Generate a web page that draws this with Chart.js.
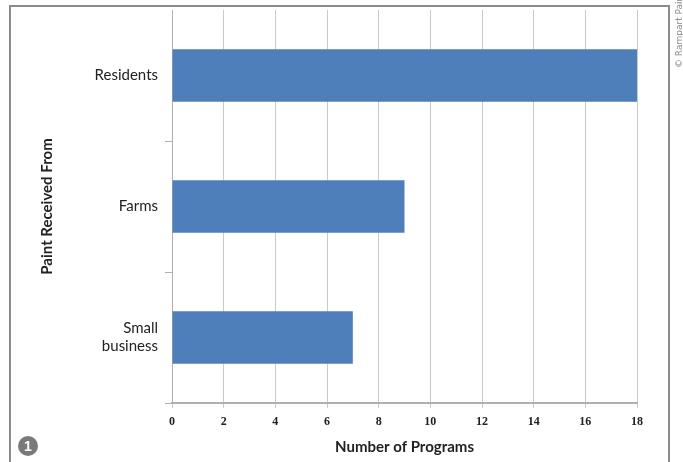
<!DOCTYPE html>
<html>
<head>
<meta charset="utf-8">
<script src="https://cdn.jsdelivr.net/npm/chart.js@4/dist/chart.umd.min.js"></script>
<style>
  html, body { margin: 0; padding: 0; background: #ffffff; }
  #wrap { width: 683px; height: 462px; position: relative; }
</style>
</head>
<body>
<div id="wrap"><canvas id="c" width="683" height="462"></canvas></div>
<script>
// Where the paint came from, and how many programs reported each source
const sources = ['Residents', 'Farms', ['Small', 'business']];
const programCounts = [18, 9, 7];
const xTicks = [0, 2, 4, 6, 8, 10, 12, 14, 16, 18];

const frameAndMarks = {
  id: 'frameAndMarks',
  beforeDraw(chart) {
    const ctx = chart.ctx;
    ctx.save();
    ctx.fillStyle = '#ffffff';
    ctx.fillRect(0, 0, chart.width, chart.height);
    ctx.strokeStyle = '#8a8a8a';
    ctx.lineWidth = 2;
    ctx.strokeRect(10, 6, 659, 470);
    ctx.restore();
  },
  afterDraw(chart) {
    const ctx = chart.ctx;
    ctx.save();
    // numbered badge
    ctx.fillStyle = '#7a7a7a';
    ctx.beginPath();
    ctx.arc(28, 446, 10, 0, Math.PI * 2);
    ctx.fill();
    ctx.fillStyle = '#ffffff';
    ctx.font = 'bold 14px "Liberation Sans", Arial, sans-serif';
    ctx.textAlign = 'center';
    ctx.textBaseline = 'middle';
    ctx.fillText('1', 28, 447);
    // credit line along the right edge
    ctx.translate(680, 68);
    ctx.rotate(-Math.PI / 2);
    ctx.fillStyle = '#8a8a8a';
    ctx.font = '9px "DejaVu Sans", sans-serif';
    ctx.textAlign = 'left';
    ctx.textBaseline = 'middle';
    ctx.fillText('\u00A9 Rampart Paints', 0, 0);
    ctx.restore();
  }
};

new Chart(document.getElementById('c'), {
  type: 'bar',
  data: {
    labels: sources,
    datasets: [{
      data: programCounts,
      backgroundColor: '#4f7fbb',
      borderWidth: 0,
      categoryPercentage: 1,
      barPercentage: 0.4
    }]
  },
  options: {
    indexAxis: 'y',
    responsive: false,
    animation: false,
    devicePixelRatio: 1,
    layout: { padding: { top: 10, right: 46, left: 0, bottom: 0 } },
    plugins: {
      legend: { display: false },
      tooltip: { enabled: false }
    },
    scales: {
      x: {
        type: 'linear',
        min: 0,
        max: 18,
        afterBuildTicks(scale) { scale.ticks = xTicks.map(v => ({ value: v })); },
        afterFit(scale) { scale.height = 59; scale.paddingLeft = 0; scale.paddingRight = 0; },
        grid: { color: '#c9c9c9', lineWidth: 1, tickLength: 5, drawTicks: true },
        border: { color: '#b0b0b0', width: 2 },
        ticks: {
          color: '#222',
          padding: 7,
          font: { family: '"Liberation Serif", "DejaVu Serif", serif', size: 12, weight: 'bold' }
        },
        title: {
          display: true,
          text: 'Number of Programs',
          color: '#222',
          font: { family: 'Lato, "DejaVu Sans", sans-serif', size: 15, weight: 'bold' },
          padding: { top: 0, bottom: 6 }
        }
      },
      y: {
        type: 'category',
        afterFit(scale) { scale.width = 172; scale.paddingTop = 0; scale.paddingBottom = 0; },
        grid: {
          offset: true,
          drawOnChartArea: false,
          drawTicks: true,
          tickLength: 7,
          color: (c) => (c.index === 0 ? 'rgba(0,0,0,0)' : '#b0b0b0')
        },
        border: { color: '#b0b0b0', width: 1 },
        ticks: {
          color: '#222',
          padding: 7,
          font: { family: 'Lato, "Open Sans", sans-serif', size: 15 }
        },
        title: {
          display: true,
          text: 'Paint Received From',
          color: '#222',
          font: { family: 'Lato, "DejaVu Sans", sans-serif', size: 15, weight: 'bold' },
          padding: { top: 38, bottom: 0 }
        }
      }
    }
  },
  plugins: [frameAndMarks]
});
</script>
</body>
</html>
